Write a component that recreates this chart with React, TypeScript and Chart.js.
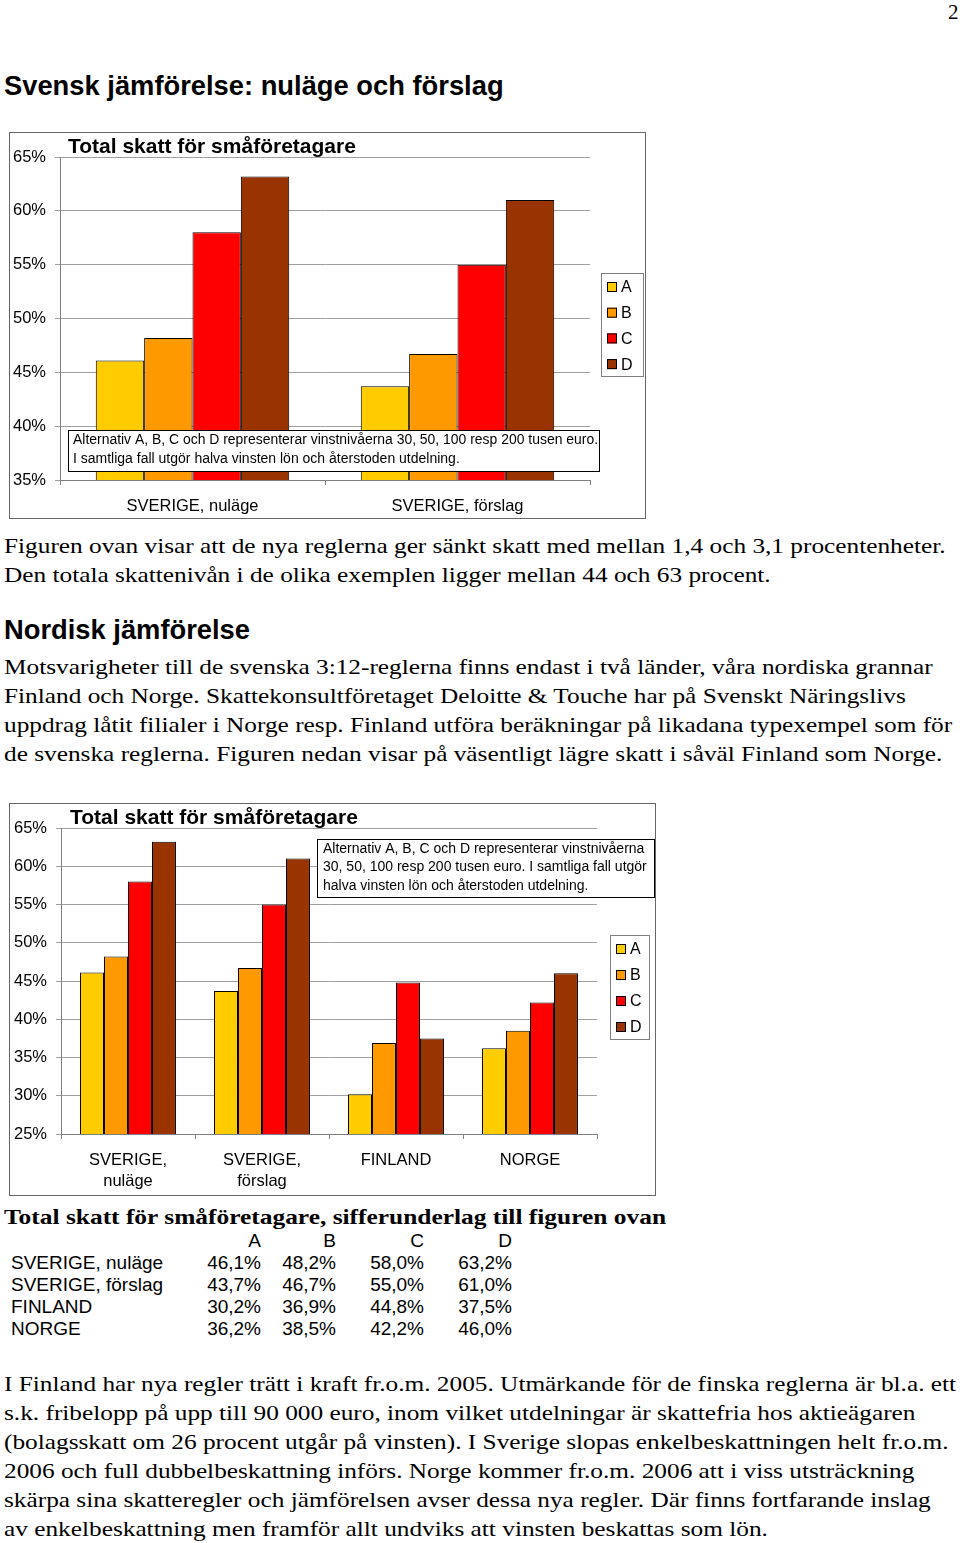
import React, { useEffect, useRef } from 'react';
import { Chart, registerables } from 'chart.js';

Chart.register(...registerables);

// ---------- data ----------
const seriesLabels = ['A', 'B', 'C', 'D'];
const seriesColors = ['#FFCC00', '#FF9900', '#FF0000', '#993300'];
const swedenCategories = ['SVERIGE, nuläge', 'SVERIGE, förslag'];
const nordicCategories: (string | string[])[] = [['SVERIGE,', 'nuläge'], ['SVERIGE,', 'förslag'], 'FINLAND', 'NORGE'];
const valuesA = [46.1, 43.7, 30.2, 36.2];
const valuesB = [48.2, 46.7, 36.9, 38.5];
const valuesC = [58.0, 55.0, 44.8, 42.2];
const valuesD = [63.2, 61.0, 37.5, 46.0];
const tableRows = ['SVERIGE, nuläge', 'SVERIGE, förslag', 'FINLAND', 'NORGE'];
const chartTitle = 'Total skatt för småföretagare';
const noteLinesWide = [
  'Alternativ A, B, C och D representerar vinstnivåerna 30, 50, 100 resp 200 tusen euro.',
  'I samtliga fall utgör halva vinsten lön och återstoden utdelning.',
];
const noteLinesNarrow = [
  'Alternativ A, B, C och D representerar vinstnivåerna',
  '30, 50, 100 resp 200 tusen euro. I samtliga fall utgör',
  'halva vinsten lön och återstoden utdelning.',
];

const SANS = '"Liberation Sans", Arial, sans-serif';
const SERIF = '"Liberation Serif", "Times New Roman", serif';

const allSeries = [valuesA, valuesB, valuesC, valuesD];

const overlayPlugin = {
  id: 'pageOverlay',
  afterDraw(chart: any, _args: any, o: any) {
    const ctx = chart.ctx as CanvasRenderingContext2D;
    ctx.save();
    ctx.textBaseline = 'middle';
    ctx.textAlign = 'left';
    ctx.fillStyle = '#000';
    ctx.font = `bold 21px ${SANS}`;
    ctx.fillText(o.title, o.titleX, o.titleY);

    const [bx, by, bw, bh] = o.noteBox;
    ctx.fillStyle = '#fff';
    ctx.fillRect(bx, by, bw, bh);
    ctx.strokeStyle = '#000';
    ctx.lineWidth = 1;
    ctx.strokeRect(bx + 0.5, by + 0.5, bw - 1, bh - 1);
    ctx.fillStyle = '#000';
    ctx.font = `14px ${SANS}`;
    o.noteLines.forEach((line: string, i: number) => {
      ctx.fillText(line, bx + o.notePad, o.noteY0 + i * o.noteStep, bw - o.notePad - 2);
    });

    const [lx, ly, lw, lh] = o.legendBox;
    ctx.fillStyle = '#fff';
    ctx.fillRect(lx, ly, lw, lh);
    ctx.strokeStyle = '#808080';
    ctx.strokeRect(lx + 0.5, ly + 0.5, lw - 1, lh - 1);
    ctx.font = `16px ${SANS}`;
    chart.data.datasets.forEach((ds: any, i: number) => {
      const cy = o.legendY0 + i * o.legendStep;
      ctx.fillStyle = ds.backgroundColor;
      ctx.fillRect(lx + 6, cy - 5, 10, 10);
      ctx.strokeStyle = '#000';
      ctx.strokeRect(lx + 6.5, cy - 4.5, 9, 9);
      ctx.fillStyle = '#000';
      ctx.fillText(ds.label, lx + 20, cy + 1);
    });
    ctx.restore();
  },
};

function makeConfig(labels: any[], count: number, min: number, yWidth: number, xHeight: number, padRight: number, catPct: number, overlay: any) {
  return {
    type: 'bar' as const,
    data: {
      labels,
      datasets: seriesLabels.map((lab, i) => ({
        label: lab,
        data: allSeries[i].slice(0, count),
        backgroundColor: seriesColors[i],
        borderColor: '#000',
        borderWidth: 1,
        borderSkipped: false,
        barPercentage: 1,
        categoryPercentage: catPct,
      })),
    },
    options: {
      responsive: false,
      animation: false,
      events: [],
      layout: { padding: { left: 0, right: padRight, top: 24, bottom: 0 } },
      plugins: { legend: { display: false }, tooltip: { enabled: false }, title: { display: false }, pageOverlay: overlay },
      scales: {
        x: {
          grid: { display: true, drawOnChartArea: false, tickLength: 5, color: '#808080', offset: true },
          border: { color: '#808080' },
          ticks: { color: '#000', font: { family: SANS, size: 16.5, lineHeight: 1.33 }, padding: 10, maxRotation: 0, autoSkip: false },
          afterFit: (s: any) => { s.height = xHeight; },
        },
        y: {
          min,
          max: 65,
          ticks: { stepSize: 5, color: '#000', font: { family: SANS, size: 16.5 }, padding: 9, callback: (v: any) => v + '%' },
          grid: { color: '#a0a0a0', tickLength: 5 },
          border: { color: '#808080' },
          afterFit: (s: any) => { s.width = yWidth; },
        },
      },
    },
    plugins: [overlayPlugin],
  };
}

function BarChart({ w, h, config }: { w: number; h: number; config: any }) {
  const ref = useRef<HTMLCanvasElement>(null);
  useEffect(() => {
    if (!ref.current) return;
    const c = new Chart(ref.current, config);
    return () => c.destroy();
  }, []);
  return <canvas ref={ref} width={w} height={h} style={{ display: 'block', width: w, height: h }} />;
}

function T({ x, cy, size, font = SERIF, bold = false, children, right, sx = 1 }: any) {
  const lh = Math.round(size * 1.3);
  const style: any = {
    position: 'absolute',
    top: cy - lh / 2,
    lineHeight: `${lh}px`,
    fontSize: size,
    fontFamily: font,
    fontWeight: bold ? 'bold' : 'normal',
    whiteSpace: 'nowrap',
    color: '#000',
  };
  if (sx !== 1) {
    style.transform = `scaleX(${sx})`;
    style.transformOrigin = 'left center';
  }
  if (right !== undefined) {
    style.right = 960 - right;
    style.textAlign = 'right';
  } else style.left = x;
  return <div style={style}>{children}</div>;
}

const para1 = [
  'Figuren ovan visar att de nya reglerna ger sänkt skatt med mellan 1,4 och 3,1 procentenheter.',
  'Den totala skattenivån i de olika exemplen ligger mellan 44 och 63 procent.',
];
const para2 = [
  'Motsvarigheter till de svenska 3:12-reglerna finns endast i två länder, våra nordiska grannar',
  'Finland och Norge. Skattekonsultföretaget Deloitte & Touche har på Svenskt Näringslivs',
  'uppdrag låtit filialer i Norge resp. Finland utföra beräkningar på likadana typexempel som för',
  'de svenska reglerna. Figuren nedan visar på väsentligt lägre skatt i såväl Finland som Norge.',
];
const para3 = [
  'I Finland har nya regler trätt i kraft fr.o.m. 2005. Utmärkande för de finska reglerna är bl.a. ett',
  's.k. fribelopp på upp till 90 000 euro, inom vilket utdelningar är skattefria hos aktieägaren',
  '(bolagsskatt om 26 procent utgår på vinsten). I Sverige slopas enkelbeskattningen helt fr.o.m.',
  '2006 och full dubbelbeskattning införs. Norge kommer fr.o.m. 2006 att i viss utsträckning',
  'skärpa sina skatteregler och jämförelsen avser dessa nya regler. Där finns fortfarande inslag',
  'av enkelbeskattning men framför allt undviks att vinsten beskattas som lön.',
];

const fmt = (v: number) => v.toFixed(1).replace('.', ',') + '%';
const BODY = 21;
const BODY_SX = 1.205;

export default function App() {
  const cfg1 = makeConfig(swedenCategories, 2, 35, 50, 38, 55, 0.73, {
    title: chartTitle, titleX: 58, titleY: 14,
    noteBox: [58, 297, 532, 42], noteLines: noteLinesWide, notePad: 5, noteY0: 307, noteStep: 19,
    legendBox: [591, 140, 43, 104], legendY0: 154, legendStep: 25.7,
  });
  const cfg2 = makeConfig(nordicCategories, 4, 25, 51, 61, 58, 0.716, {
    title: chartTitle, titleX: 60, titleY: 14,
    noteBox: [307, 35, 338, 59], noteLines: noteLinesNarrow, notePad: 6, noteY0: 45, noteStep: 18.5,
    legendBox: [600, 131, 40, 105], legendY0: 145, legendStep: 26,
  });
  const colEnds = [261, 336, 424, 512];
  const rowYs = [1262, 1284, 1306, 1328];
  return (
    <div style={{ position: 'absolute', left: 0, top: 0, width: 960, height: 1543, overflow: 'hidden', background: '#fff' }}>
      <T x={948} cy={12} size={21}>2</T>
      <T x={4} cy={86} size={27} font={SANS} bold sx={1.012}>Svensk jämförelse: nuläge och förslag</T>

      <div style={{ position: 'absolute', left: 9, top: 132, border: '1px solid #666' }}>
        <BarChart w={635} h={385} config={cfg1} />
      </div>

      {para1.map((l, i) => <T key={'p1' + i} x={4} cy={546 + i * 29} size={BODY} sx={BODY_SX}>{l}</T>)}
      <T x={4} cy={630} size={27} font={SANS} bold sx={1.012}>Nordisk jämförelse</T>
      {para2.map((l, i) => <T key={'p2' + i} x={4} cy={667 + i * 29} size={BODY} sx={BODY_SX}>{l}</T>)}

      <div style={{ position: 'absolute', left: 9, top: 803, border: '1px solid #666' }}>
        <BarChart w={645} h={391} config={cfg2} />
      </div>

      <T x={4} cy={1217} size={21} bold sx={1.21}>Total skatt för småföretagare, sifferunderlag till figuren ovan</T>
      {seriesLabels.map((s, j) => <T key={'h' + j} right={colEnds[j]} cy={1240} size={19} font={SANS}>{s}</T>)}
      {tableRows.map((r, i) => (
        <React.Fragment key={'r' + i}>
          <T x={11} cy={rowYs[i]} size={19} font={SANS}>{r}</T>
          {allSeries.map((s, j) => <T key={'c' + j} right={colEnds[j]} cy={rowYs[i]} size={19} font={SANS}>{fmt(s[i])}</T>)}
        </React.Fragment>
      ))}

      {para3.map((l, i) => <T key={'p3' + i} x={4} cy={1384 + i * 29} size={BODY} sx={BODY_SX}>{l}</T>)}
    </div>
  );
}
